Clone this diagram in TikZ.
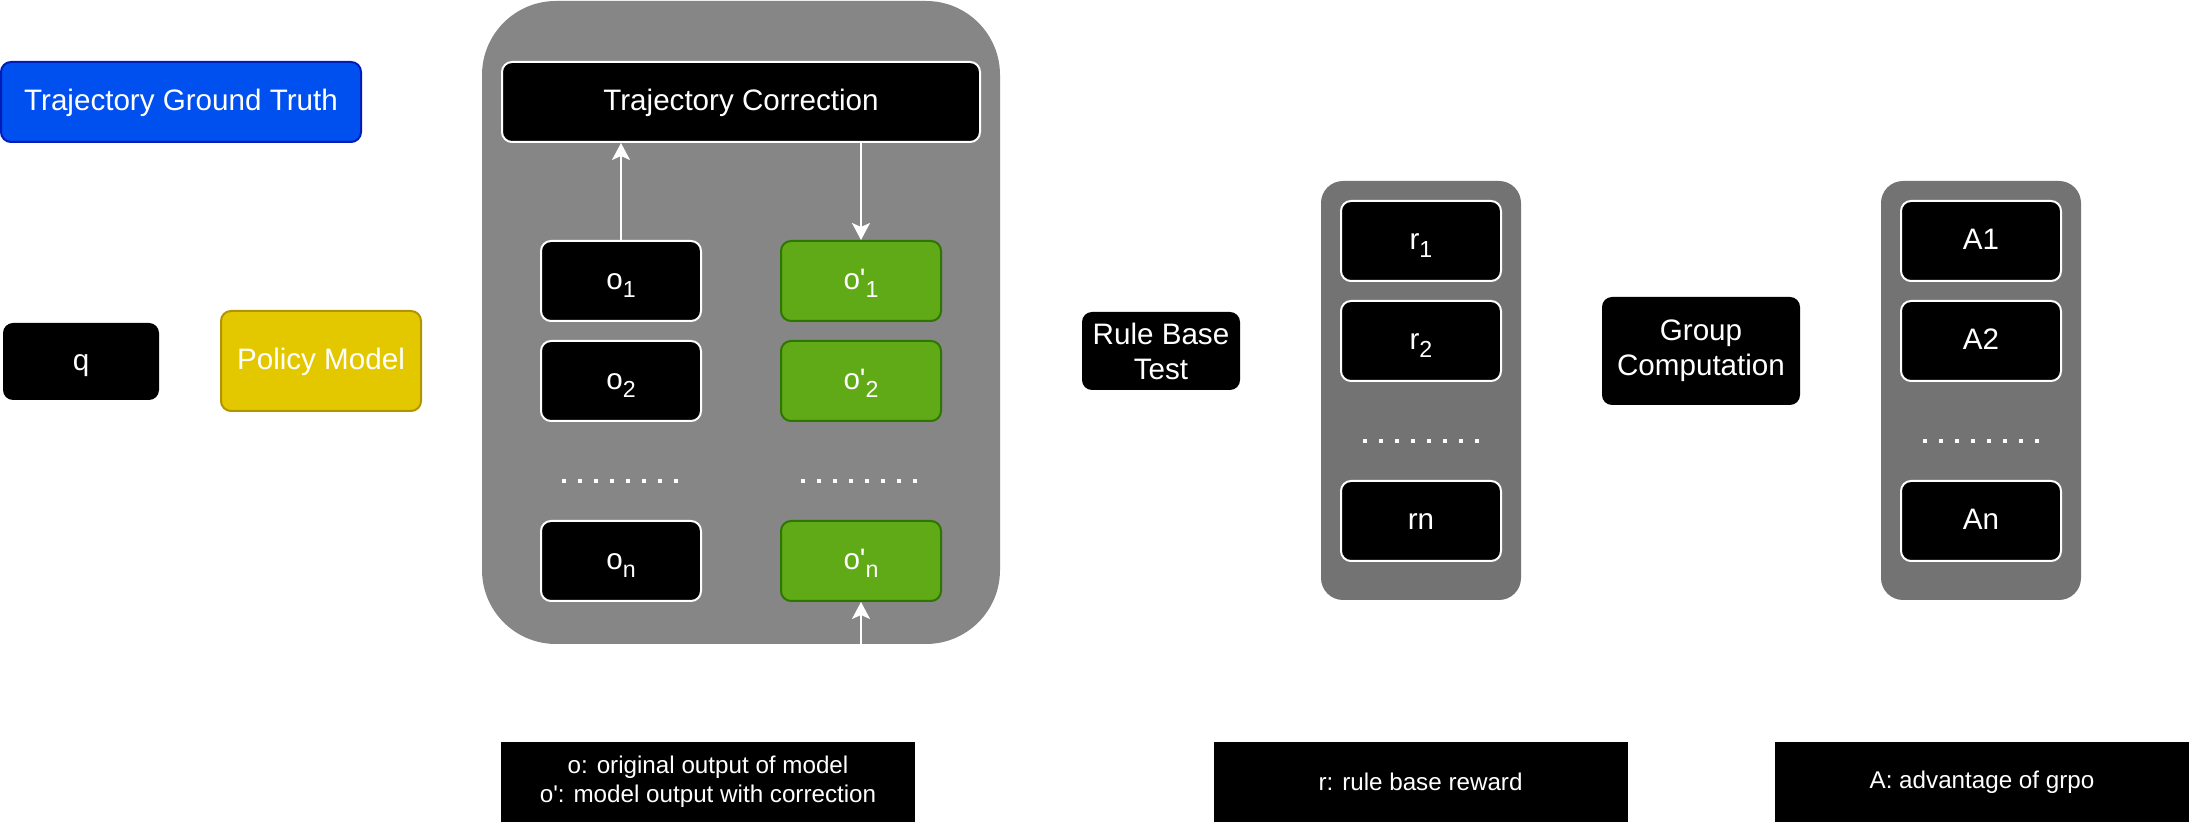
\documentclass[tikz,border=0pt]{standalone}
\usepackage{fontspec}
\setmainfont{Liberation Sans}
\usetikzlibrary{arrows.meta}
\definecolor{outergray}{HTML}{868686}
\definecolor{listgray}{HTML}{737373}
\definecolor{gtblue}{HTML}{0050EF}
\definecolor{gtblueline}{HTML}{001DBC}
\definecolor{polyellow}{HTML}{E3C800}
\definecolor{polyellowline}{HTML}{B09500}
\definecolor{corrgreen}{HTML}{60A917}
\definecolor{corrgreenline}{HTML}{2D7600}
\newcommand{\labelsize}{\fontsize{14.8}{17.5}\selectfont}
\newcommand{\notesize}{\fontsize{12.1}{14.5}\selectfont}
\newcommand{\osub}[1]{\raisebox{-4pt}{\fontsize{11.6}{12}\selectfont #1}}
\newcommand{\prm}{\textquotesingle}
\tikzset{
  card/.style={rounded corners=5pt, inner sep=0pt, align=center, text=white, font=\labelsize, line width=1pt, text height=11.5pt, text depth=2.5pt},
  blackcard/.style={card, fill=black, draw=white, minimum width=80pt, minimum height=40pt},
  greencard/.style={card, fill=corrgreen, draw=corrgreenline, minimum width=80pt, minimum height=40pt},
  panel/.style={fill=#1, inner sep=0pt},
  note/.style={fill=black, text=white, font=\notesize, align=center, inner sep=0pt, minimum width=207pt, minimum height=40pt},
  dotrow/.style={white, line width=2pt, dash pattern=on 2pt off 6pt},
  flow/.style={white, line width=1pt, -{Stealth[length=8.5pt,width=9pt,inset=2pt]}}
}
\begin{document}
\begin{tikzpicture}[x=0.5pt,y=-0.5pt]
\useasboundingbox[fill=white] (0,0) rectangle (2190,822);
\node[card, fill=gtblue, draw=gtblueline, minimum width=180pt, minimum height=40pt] (truth) at (181,102) {Trajectory Ground Truth};
\node[card, fill=black, minimum width=78pt, minimum height=38.5pt] (q) at (81,361.5) {q};
\node[card, fill=polyellow, draw=polyellowline, minimum width=100pt, minimum height=50pt] (policy) at (321,361) {Policy Model};

\node[panel=outergray, rounded corners=37pt, minimum width=259pt, minimum height=321.5pt] (corrpanel) at (741,322.5) {};
\node[blackcard, minimum width=239pt] (correction) at (741,102) {Trajectory Correction};
\foreach \i/\y in {1/281, 2/381, n/561} {
  \node[blackcard] (o\i) at (621,\y) {o\osub{\i}};
  \node[greencard] (op\i) at (861,\y) {o\prm\osub{\i}};
}
\draw[dotrow] (562,481) -- (678,481);
\draw[dotrow] (801,481) -- (917,481);
\draw[flow] (o1.north) -- (o1.north |- correction.south);
\draw[flow] (correction.south -| op1.north) -- (op1.north);
\draw[flow] (corrpanel.south -| opn.south) -- (opn.south);

\node[card, fill=black, minimum width=79pt, minimum height=39pt, text height={}, text depth={}] (rule) at (1161,351) {Rule Base\\Test};
\node[panel=listgray, rounded corners=11pt, minimum width=100pt, minimum height=209.5pt] (rpanel) at (1421,390.5) {};
\foreach \i/\y in {1/241, 2/341} \node[blackcard] (r\i) at (1421,\y) {r\osub{\i}};
\node[blackcard] (rn) at (1421,521) {rn};
\draw[dotrow] (1363,441) -- (1479,441);

\node[card, fill=black, minimum width=99pt, minimum height=54pt, text height={}, text depth={}] (group) at (1701,351) {Group\\Computation};
\node[panel=listgray, rounded corners=11pt, minimum width=100pt, minimum height=209.5pt] (apanel) at (1981,390.5) {};
\foreach \i/\y in {1/241, 2/341} \node[blackcard] (a\i) at (1981,\y) {A\i};
\node[blackcard] (an) at (1981,521) {An};
\draw[dotrow] (1923,441) -- (2039,441);

\node[note] (onote) at (708,782) {o: original output of model\\o\prm: model output with correction};
\node[note] (rnote) at (1420.5,782) {r: rule base reward};
\node[note] (anote) at (1982,782) {A: advantage of grpo};
\end{tikzpicture}
\end{document}
